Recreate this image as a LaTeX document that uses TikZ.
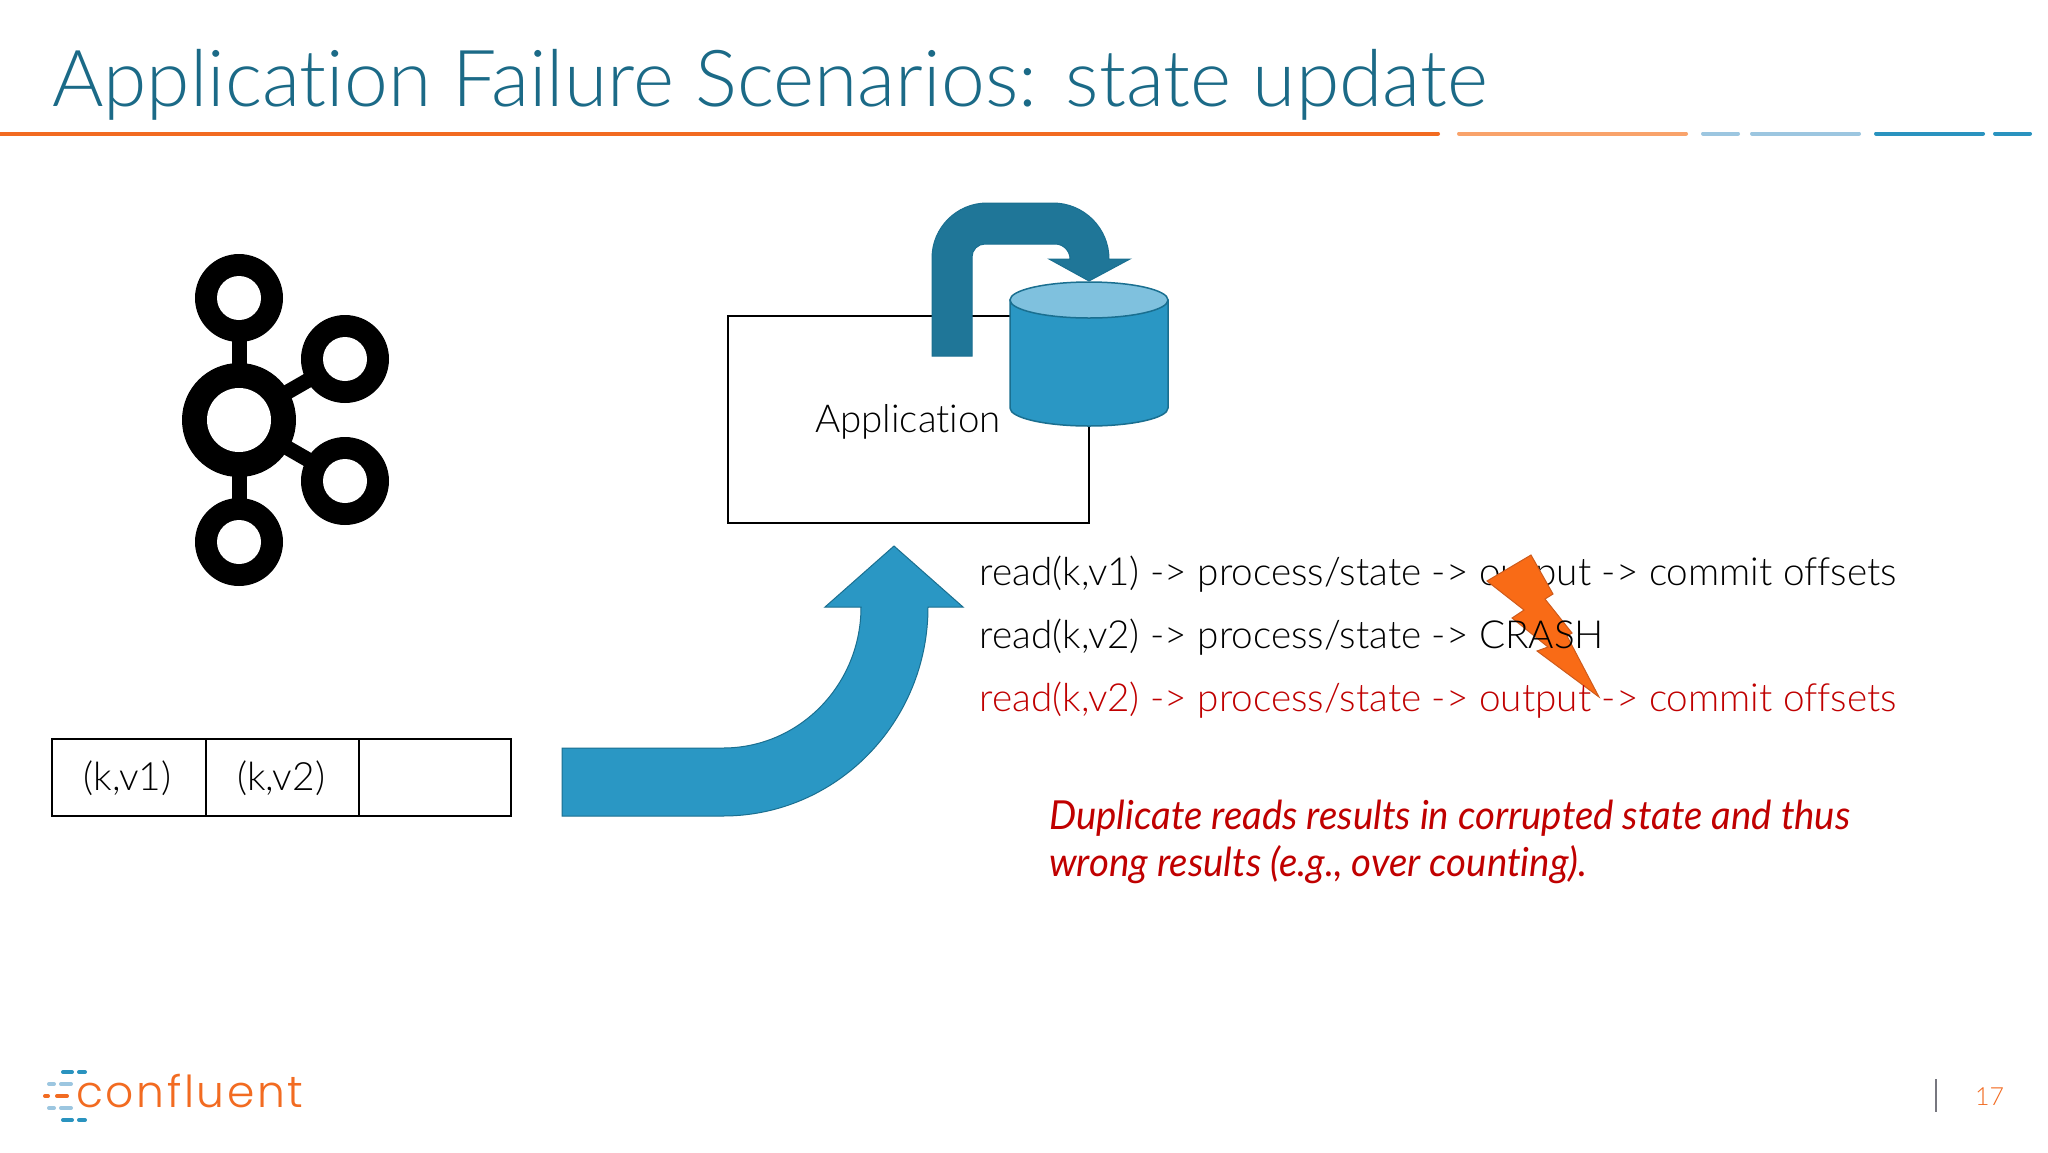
\documentclass[tikz,border=0pt]{standalone}
\usepackage{fontspec}
\setmainfont[Ligatures=NoCommon]{Lato Light}
\newfontfamily\notefont[Ligatures=NoCommon,ItalicFont={Lato Italic},ItalicFeatures={FakeStretch=0.96}]{Lato}
\newfontfamily\logofont[LetterSpace=6,Ligatures=NoCommon]{Poppins Light}
\definecolor{titleblue}{HTML}{1B6A87}
\definecolor{midblue}{HTML}{2A97C4}
\definecolor{darkblue}{HTML}{1F7698}
\definecolor{lightblue}{HTML}{7FC1DE}
\definecolor{strokeblue}{HTML}{1A6F90}
\definecolor{ruleorange}{HTML}{F26B21}
\definecolor{palerange}{HTML}{F9A36B}
\definecolor{paleblue}{HTML}{9CC6E0}
\definecolor{rulteal}{HTML}{2A93BF}
\definecolor{boltorange}{HTML}{F96B16}
\definecolor{redtext}{HTML}{C00000}
\definecolor{pagebar}{HTML}{77777F}
\tikzset{
  x=1pt,y=-1pt,
  rulelbl/.style={line width=4pt,line cap=round},
  labeltext/.style={anchor=base west,inner sep=0pt,font=\fontsize{38.7}{38.7}\selectfont},
  notetext/.style={anchor=base west,inner sep=0pt,text=redtext,font=\notefont\itshape\fontsize{40}{40}\selectfont},
  boxline/.style={draw=black,line width=2pt},
  logodash/.style={line width=4pt,line cap=round}
}
\begin{document}
\begin{tikzpicture}
\useasboundingbox (0,0) rectangle (2048,1152);
\fill[white] (0,0) rectangle (2048,1152);
\node[anchor=base west,inner sep=0pt,text=titleblue,font=\fontsize{78.6}{78.6}\selectfont] (title) at (52,106) {Application Failure Scenarios: state update};
\draw[rulelbl,ruleorange] (0,133.5) -- (1438,133.5);
\draw[rulelbl,palerange] (1459,133.5) -- (1686,133.5);
\draw[rulelbl,paleblue] (1703,133.5) -- (1738,133.5);
\draw[rulelbl,paleblue] (1752,133.5) -- (1859,133.5);
\draw[rulelbl,rulteal] (1876,133.5) -- (1983,133.5);
\draw[rulelbl,rulteal] (1995,133.5) -- (2030,133.5);
% kafka
\draw[black,line width=15pt] (239,298) -- (239,542);
\draw[black,line width=15pt] (345,359) -- (239,420) -- (345,481);
\fill[black] (239,298) circle (44) (345,359) circle (44) (345,481) circle (44) (239,542) circle (44);
\fill[black] (239,420) circle (57);
\fill[white] (239,420) circle (32);
\fill[white] (239,298) circle (22);
\fill[white] (345,359) circle (22);
\fill[white] (345,481) circle (22);
\fill[white] (239,542) circle (22);
% boxes
\draw[boxline] (52,739) rectangle (511,816);
\draw[boxline] (206,739) -- (206,816);
\draw[boxline] (359,739) -- (359,816);
\node[inner sep=0pt,font=\fontsize{39}{39}\selectfont] (kv1) at (127.5,778) {(k,v1)};
\node[inner sep=0pt,font=\fontsize{39}{39}\selectfont] (kv2) at (281,778) {(k,v2)};
% big arrow
\draw[strokeblue,line width=1pt,fill=midblue] (562,748) -- (723,748) arc[start angle=90,end angle=0,x radius=138,y radius=141] -- (825,607) -- (894,546) -- (963,607) -- (928,607) arc[start angle=0,end angle=90,x radius=205,y radius=209] -- (562,816) -- cycle;
% application
\draw[boxline] (728,316) rectangle (1089,523);
\node[inner sep=0pt,anchor=base,font=\fontsize{38.5}{38.5}\selectfont] (app) at (908,432) {Application};
% loop arrow
\draw[strokeblue,fill=darkblue,line width=1pt] (932,356) -- (932,258) arc[start angle=180,end angle=270,radius=55] -- (1053,203) arc[start angle=270,end angle=360,radius=56] -- (1130,259) -- (1089,281) -- (1049,259) -- (1070,259) arc[start angle=0,end angle=-90,radius=15] -- (985,244) arc[start angle=-90,end angle=-180,radius=13] -- (972,356) -- cycle;
% cylinder
\draw[strokeblue,line width=1.5pt,fill=midblue] (1010,300) -- (1010,408) arc[start angle=180,end angle=0,x radius=79,y radius=18] -- (1168,300) -- cycle;
\draw[strokeblue,line width=1.5pt,fill=lightblue] (1089,300) ellipse[x radius=79,y radius=18];
% first line runs under the bolt, the others over it
\node[labeltext] (l1) at (979.5,585) {read(k,v1) -> process/state -> output -> commit offsets};
\draw[ruleorange!85!black,line width=1pt,fill=boltorange] (1531,555) -- (1553,594) -- (1545,599) -- (1572,633) -- (1567,636) -- (1599,697) -- (1537,651) -- (1548,647) -- (1512,618) -- (1524,610) -- (1487,581) -- cycle;
\node[labeltext] (l2) at (979.5,648) {read(k,v2) -> process/state -> CRASH};
\node[labeltext,text=redtext] (l3) at (979.5,711) {read(k,v2) -> process/state -> output -> commit offsets};
\node[notetext] (n1) at (1049,829) {Duplicate reads results in corrupted state and thus};
\node[notetext] (n2) at (1049,876) {wrong results (e.g., over counting).};
% logo
\node[anchor=base west,inner sep=0pt,text=ruleorange,font=\logofont\fontsize{44}{44}\selectfont] (logo) at (76,1107) {confluent};
\draw[logodash,rulteal] (63,1072) -- (72,1072) (79,1072) -- (85,1072) (63,1120) -- (72,1120) (79,1120) -- (85,1120);
\draw[logodash,paleblue] (49,1084) -- (54,1084) (61,1084) -- (71,1084) (49,1108) -- (54,1108) (61,1108) -- (71,1108);
\draw[logodash,ruleorange] (45,1096) -- (48,1096) (57,1096) -- (67,1096);
% page
\draw[pagebar,line width=2.5pt] (1936,1079) -- (1936,1112);
\node[anchor=base,inner sep=0pt,text=ruleorange,font=\fontsize{25}{25}\selectfont] (pg) at (1989.5,1105) {17};
\end{tikzpicture}
\end{document}
